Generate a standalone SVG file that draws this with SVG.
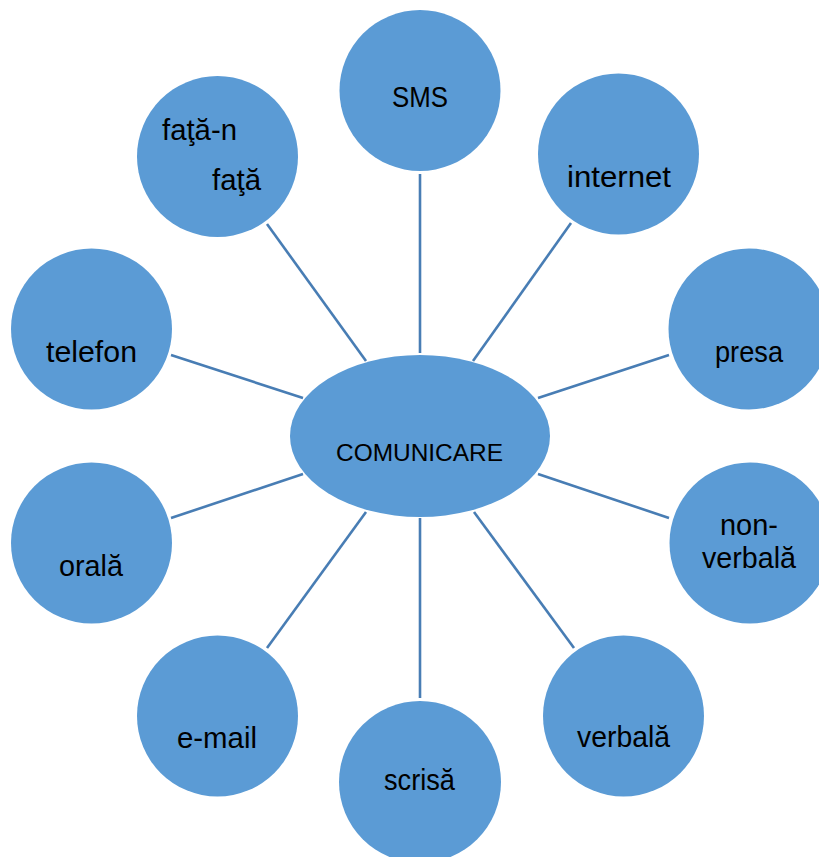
<svg xmlns="http://www.w3.org/2000/svg" width="819" height="857" viewBox="0 0 819 857">
<style>
.n{fill:#5b9bd5}
.t{font-family:"Liberation Sans",Arial,sans-serif;font-size:29px;fill:#000}
.c{font-size:24px}
.e{stroke:#487db4;stroke-width:2.6;fill:none}
</style>
<rect width="819" height="857" fill="#fff"/>
<g id="connectors">
<line class="e" x1="420" y1="174" x2="420" y2="353"/>
<line class="e" x1="571" y1="223" x2="473" y2="361"/>
<line class="e" x1="669" y1="355" x2="538" y2="398"/>
<line class="e" x1="267" y1="224" x2="366" y2="361"/>
<line class="e" x1="171" y1="355" x2="303" y2="398"/>
<line class="e" x1="171" y1="518" x2="303" y2="474"/>
<line class="e" x1="267" y1="648" x2="366" y2="512"/>
<line class="e" x1="420" y1="518" x2="420" y2="698"/>
<line class="e" x1="474" y1="512" x2="574" y2="648"/>
<line class="e" x1="538" y1="474" x2="669" y2="518"/>
</g>
<g id="comunicare">
<ellipse class="n" cx="420" cy="436" rx="130" ry="81"/>
<text class="t c" x="336" y="461" textLength="167" lengthAdjust="spacingAndGlyphs">COMUNICARE</text>
</g>
<g id="sms">
<circle class="n" cx="420" cy="90.5" r="80.5"/>
<text class="t" x="392" y="107" textLength="56" lengthAdjust="spacingAndGlyphs">SMS</text>
</g>
<g id="internet">
<circle class="n" cx="618.5" cy="154" r="80.5"/>
<text class="t" x="567" y="187" textLength="104" lengthAdjust="spacingAndGlyphs">internet</text>
</g>
<g id="presa">
<circle class="n" cx="749" cy="329" r="80.5"/>
<text class="t" x="715" y="362" textLength="68" lengthAdjust="spacingAndGlyphs">presa</text>
</g>
<g id="non-verbala">
<circle class="n" cx="750" cy="543" r="80.5"/>
<text class="t" x="720" y="535" textLength="58" lengthAdjust="spacingAndGlyphs">non-</text>
<text class="t" x="702" y="568" textLength="94" lengthAdjust="spacingAndGlyphs">verbală</text>
</g>
<g id="verbala">
<circle class="n" cx="623.5" cy="716" r="80.5"/>
<text class="t" x="577" y="747" textLength="93" lengthAdjust="spacingAndGlyphs">verbală</text>
</g>
<g id="scrisa">
<circle class="n" cx="420" cy="782" r="81"/>
<text class="t" x="384" y="790" textLength="71" lengthAdjust="spacingAndGlyphs">scrisă</text>
</g>
<g id="e-mail">
<circle class="n" cx="217.5" cy="716" r="80.5"/>
<text class="t" x="177" y="748" textLength="80" lengthAdjust="spacingAndGlyphs">e-mail</text>
</g>
<g id="orala">
<circle class="n" cx="91.5" cy="543" r="80.5"/>
<text class="t" x="59" y="576" textLength="64" lengthAdjust="spacingAndGlyphs">orală</text>
</g>
<g id="telefon">
<circle class="n" cx="91.5" cy="329" r="80.5"/>
<text class="t" x="46" y="362" textLength="91" lengthAdjust="spacingAndGlyphs">telefon</text>
</g>
<g id="fata-n-fata">
<circle class="n" cx="217.5" cy="156.5" r="80.5"/>
<text class="t" x="162" y="140" textLength="75" lengthAdjust="spacingAndGlyphs">faţă-n</text>
<text class="t" x="212" y="190" textLength="49" lengthAdjust="spacingAndGlyphs">faţă</text>
</g>
</svg>
